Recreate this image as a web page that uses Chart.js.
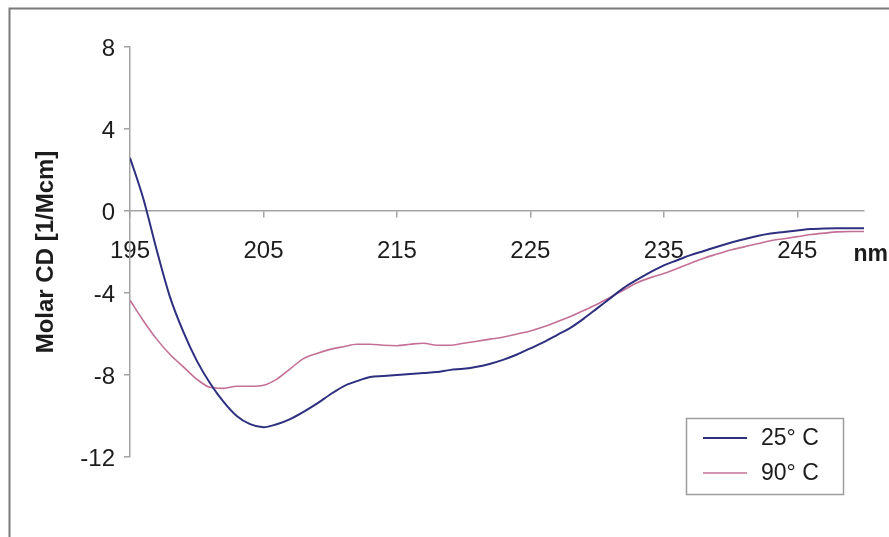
<!DOCTYPE html>
<html>
<head>
<meta charset="utf-8">
<title>Molar CD spectra</title>
<script src="https://cdn.jsdelivr.net/npm/chart.js@4.4.1/dist/chart.umd.min.js"></script>
<style>
  html, body { margin: 0; padding: 0; background: #ffffff; }
  #wrap { width: 889px; height: 537px; position: relative; }
</style>
</head>
<body>
<div id="wrap"><canvas id="cd" width="889" height="537"></canvas></div>
<script>
// Wavelength grid (nm) and molar CD readings (1/Mcm) for both temperatures
const WAVELENGTH = [195, 196, 197, 198, 199, 200, 201, 202, 203, 204, 205, 206, 207, 208, 209, 210,
  211, 212, 213, 214, 215, 216, 217, 218, 219, 220, 221, 222, 223, 224, 225, 226, 227, 228, 229, 230,
  231, 232, 233, 234, 235, 236, 237, 238, 239, 240, 241, 242, 243, 244, 245, 246, 247, 248, 249, 250];

const CD_25C = [2.6, 0.6, -1.9, -4.2, -5.9, -7.3, -8.4, -9.3, -10.0, -10.4, -10.55, -10.4, -10.15, -9.8,
  -9.4, -8.95, -8.55, -8.3, -8.1, -8.05, -8.0, -7.95, -7.9, -7.85, -7.75, -7.7, -7.6, -7.45, -7.25, -7.0,
  -6.7, -6.4, -6.05, -5.7, -5.25, -4.75, -4.25, -3.75, -3.35, -2.98, -2.65, -2.4, -2.15, -1.95, -1.74,
  -1.55, -1.38, -1.22, -1.1, -1.02, -0.95, -0.88, -0.85, -0.84, -0.84, -0.84];

const CD_90C = [-4.35, -5.35, -6.25, -7.0, -7.6, -8.2, -8.6, -8.65, -8.55, -8.55, -8.5, -8.2, -7.7, -7.2,
  -6.95, -6.75, -6.62, -6.5, -6.5, -6.55, -6.57, -6.5, -6.45, -6.55, -6.55, -6.45, -6.35, -6.25, -6.15,
  -6.0, -5.85, -5.65, -5.4, -5.15, -4.85, -4.55, -4.2, -3.85, -3.5, -3.25, -3.05, -2.8, -2.55, -2.3, -2.1,
  -1.9, -1.75, -1.6, -1.45, -1.35, -1.25, -1.15, -1.08, -1.02, -1.0, -1.0];

const SERIES_LABELS = ['25° C', '90° C'];
const X_TICKS = [195, 205, 215, 225, 235, 245];
const Y_TICKS = [-12, -8, -4, 0, 4, 8];

const FONT = "'Liberation Sans', Arial, Helvetica, sans-serif";
const AXIS_GREY = '#a3a3a3';
const TEXT = '#1c1c1c';
const COLORS = ['#2f2f80', '#c47096'];

function points(xs, ys) {
  return xs.map((x, i) => ({ x: x, y: ys[i] }));
}

// Outer frame of the figure
const framePlugin = {
  id: 'frame',
  beforeDraw(chart) {
    const ctx = chart.ctx;
    ctx.save();
    ctx.fillStyle = '#ffffff';
    ctx.fillRect(0, 0, chart.width, chart.height);
    ctx.strokeStyle = '#7a7a7a';
    ctx.lineWidth = 2;
    ctx.strokeRect(9.5, 8.5, chart.width + 20, chart.height + 20);
    ctx.restore();
  }
};

// Unit label at the end of the wavelength axis
const unitPlugin = {
  id: 'unitLabel',
  afterDraw(chart) {
    const ctx = chart.ctx;
    const y0 = chart.scales.y.getPixelForValue(0);
    ctx.save();
    ctx.font = 'bold 23px ' + FONT;
    ctx.fillStyle = TEXT;
    ctx.textAlign = 'right';
    ctx.textBaseline = 'middle';
    ctx.fillText('nm', chart.width - 1, y0 + 44);
    ctx.restore();
  }
};

// Boxed legend in the lower right corner
const legendBoxPlugin = {
  id: 'legendBox',
  afterDraw(chart) {
    const ctx = chart.ctx;
    const box = { x: 686, y: 418, w: 157, h: 76 };
    ctx.save();
    ctx.strokeStyle = '#9c9c9c';
    ctx.lineWidth = 1.5;
    ctx.strokeRect(box.x + 0.5, box.y + 0.5, box.w, box.h);
    ctx.font = '23px ' + FONT;
    ctx.textAlign = 'left';
    ctx.textBaseline = 'middle';
    chart.data.datasets.forEach((ds, i) => {
      const cy = box.y + 20 + i * 35;
      ctx.strokeStyle = ds.borderColor;
      ctx.lineWidth = ds.borderWidth;
      ctx.beginPath();
      ctx.moveTo(box.x + 17, cy);
      ctx.lineTo(box.x + 61, cy);
      ctx.stroke();
      ctx.fillStyle = TEXT;
      ctx.fillText(ds.label, box.x + 75, cy + 1);
    });
    ctx.restore();
  }
};

new Chart(document.getElementById('cd'), {
  type: 'line',
  data: {
    datasets: [
      { label: SERIES_LABELS[0], data: points(WAVELENGTH, CD_25C), borderColor: COLORS[0], borderWidth: 2 },
      { label: SERIES_LABELS[1], data: points(WAVELENGTH, CD_90C), borderColor: COLORS[1], borderWidth: 1.6 }
    ]
  },
  options: {
    responsive: false,
    animation: false,
    devicePixelRatio: 1,
    parsing: false,
    elements: {
      point: { radius: 0 },
      line: { cubicInterpolationMode: 'monotone', fill: false }
    },
    layout: { padding: { left: 0, top: 47, right: 25, bottom: 80 } },
    plugins: {
      legend: { display: false },
      tooltip: { enabled: false }
    },
    scales: {
      x: {
        type: 'linear',
        position: { y: 0 },
        min: 195,
        max: 250,
        afterBuildTicks(scale) { scale.ticks = X_TICKS.map(v => ({ value: v })); },
        afterFit(scale) { scale.height = 0; },
        grid: { display: true, drawOnChartArea: false, drawTicks: true, tickLength: 6, color: AXIS_GREY, lineWidth: 1.5 },
        border: { display: true, color: AXIS_GREY, width: 1.5 },
        ticks: {
          font: { family: FONT, size: 24 },
          color: TEXT,
          padding: 20,
          maxRotation: 0,
          autoSkip: false,
          callback: v => String(v)
        }
      },
      y: {
        type: 'linear',
        position: 'left',
        min: -12,
        max: 8,
        afterBuildTicks(scale) { scale.ticks = Y_TICKS.map(v => ({ value: v })); },
        afterFit(scale) { scale.width = 130; },
        grid: { display: true, drawOnChartArea: false, drawTicks: true, tickLength: 6, color: AXIS_GREY, lineWidth: 1.5 },
        border: { display: true, color: AXIS_GREY, width: 1.5 },
        ticks: {
          font: { family: FONT, size: 24 },
          color: TEXT,
          padding: 9,
          labelOffset: 2,
          callback: v => String(v)
        },
        title: {
          display: true,
          text: 'Molar CD [1/Mcm]',
          font: { family: FONT, size: 24, weight: 'bold' },
          color: TEXT,
          padding: { top: 32, bottom: 0 }
        }
      }
    }
  },
  plugins: [framePlugin, unitPlugin, legendBoxPlugin]
});
</script>
</body>
</html>
